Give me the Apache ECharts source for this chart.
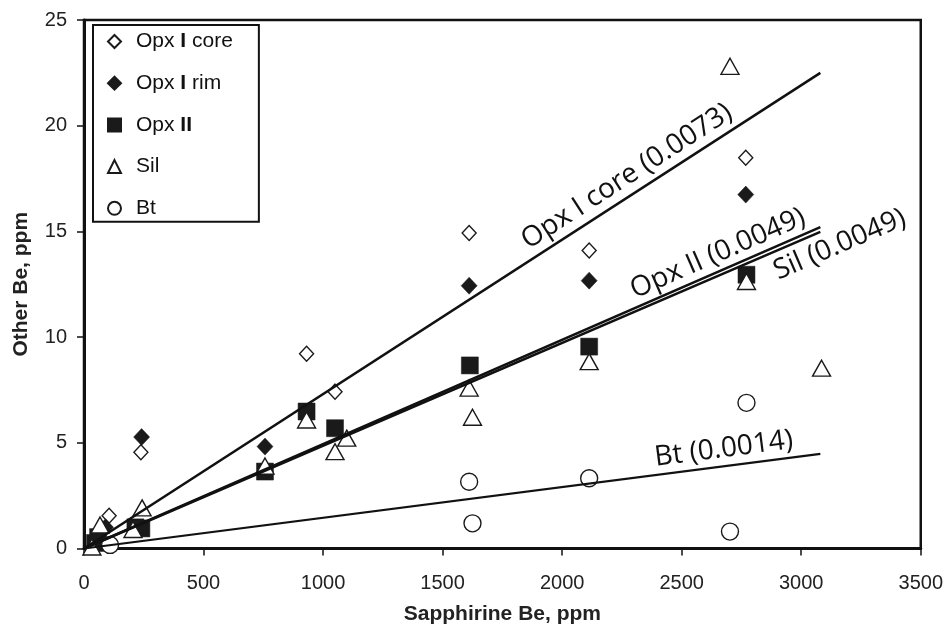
<!DOCTYPE html>
<html>
<head>
<meta charset="utf-8">
<script src="https://cdn.jsdelivr.net/npm/echarts@6/dist/echarts.min.js"></script>
<style>html,body{margin:0;padding:0;background:#fff}#c{width:946px;height:635px}</style>
</head>
<body>
<div id="c"></div>
<script>
// ---- data ----
const seriesNames = ['Opx I core', 'Opx I rim', 'Opx II', 'Sil', 'Bt'];
const opxCoreX = [105, 238, 931, 1050, 1611, 2113, 2768];
const opxCoreY = [1.55, 4.55, 9.21, 7.42, 14.92, 14.1, 18.48];
const opxRimX = [90, 241, 757, 1611, 2113, 2768];
const opxRimY = [1.0, 5.27, 4.82, 12.43, 12.67, 16.74];
const opxIIX = [46, 59, 215, 240, 757, 931, 1050, 1614, 2113, 2771];
const opxIIY = [0.26, 0.54, 1.0, 0.95, 3.64, 6.48, 5.69, 8.66, 9.55, 12.95];
const silX = [33, 67, 205, 243, 757, 931, 1050, 1099, 1611, 1625, 2113, 2702, 2771, 3085];
const silY = [0.07, 1.11, 0.9, 1.92, 3.9, 6.08, 4.58, 5.22, 7.59, 6.21, 8.84, 22.81, 12.63, 8.53];
const btX = [109, 1611, 1625, 2113, 2702, 2771];
const btY = [0.17, 3.16, 1.19, 3.32, 0.8, 6.89];

// regression lines (end points) and their labels
const fitCore = [[0, 0], [3080, 22.5]];
const fitOpxII = [[0, 0], [3080, 15.2]];
const fitSil = [[0, 0], [3080, 14.98]];
const fitBt = [[0, 0], [3080, 4.48]];
const fitLabelText = ['Opx I core (0.0073)', 'Opx II (0.0049)', 'Sil (0.0049)', 'Bt (0.0014)'];
const fitLabelAt = [[2271, 17.6], [2651, 13.95], [3161, 14.37], [2676, 4.71]];

const xAxisMin = 0, xAxisMax = 3500, xAxisStep = 500;
const yAxisMin = 0, yAxisMax = 25, yAxisStep = 5;

const zip = (xs, ys) => xs.map((x, i) => [x, ys[i]]);
const FONT = 'Liberation Sans, Arial, sans-serif';

function scatter(name, xs, ys, symbol, size, filled) {
  return {
    name, type: 'scatter', data: zip(xs, ys), symbol, symbolSize: size, clip: false, z: 3,
    itemStyle: filled ? { color: '#1a1a1a', borderColor: '#1a1a1a', borderWidth: 0.5, opacity: 1 }
                      : { color: '#fff', borderColor: '#1a1a1a', borderWidth: 1.4, opacity: 1 },
    emphasis: { disabled: true }
  };
}
function fitLine(data, w) {
  return { type: 'line', data, showSymbol: false, symbol: 'none', silent: true, z: 4,
    lineStyle: { color: '#111', width: w }, emphasis: { disabled: true } };
}

const richLegend = {
  s: { width: 10 },
  n: { fontSize: 21, fontFamily: FONT, color: '#111', lineHeight: 22 },
  b: { fontSize: 21, fontFamily: FONT, color: '#111', fontWeight: 'bold', lineHeight: 22 }
};

const option = {
  animation: false,
  backgroundColor: '#fff',
  grid: { left: 84, right: 25, top: 20, bottom: 86.5, show: true, borderColor: '#111', borderWidth: 2.5, backgroundColor: 'transparent' },
  xAxis: {
    type: 'value', min: xAxisMin, max: xAxisMax, interval: xAxisStep,
    name: 'Sapphirine Be, ppm', nameLocation: 'middle', nameGap: 55,
    nameTextStyle: { fontFamily: FONT, fontSize: 21, fontWeight: 'bold', color: '#222' },
    axisLine: { show: true, onZero: false, lineStyle: { color: '#111', width: 3 } },
    axisTick: { show: true, inside: false, length: 7, lineStyle: { color: '#111', width: 1.5 } },
    axisLabel: { fontFamily: FONT, fontSize: 20, color: '#222', margin: 25, formatter: v => String(v) },
    splitLine: { show: false }
  },
  yAxis: {
    type: 'value', min: yAxisMin, max: yAxisMax, interval: yAxisStep,
    name: 'Other Be, ppm', nameLocation: 'middle', nameGap: 52, nameRotate: 90,
    nameTextStyle: { fontFamily: FONT, fontSize: 21, fontWeight: 'bold', color: '#222' },
    axisLine: { show: true, onZero: false, lineStyle: { color: '#111', width: 3 } },
    axisTick: { show: true, inside: false, length: 7, lineStyle: { color: '#111', width: 1.5 } },
    axisLabel: { fontFamily: FONT, fontSize: 20, color: '#222', margin: 17, formatter: v => String(v) },
    splitLine: { show: false }
  },
  legend: {
    data: seriesNames, orient: 'vertical', left: 93, top: 25,
    backgroundColor: '#fff', borderColor: '#111', borderWidth: 2, borderRadius: 0,
    padding: [6, 26, 3, 14], itemGap: 20.7, itemWidth: 13, itemHeight: 13,
    selectedMode: false,
    formatter: function (n) {
      const parts = n.split(' ');
      return '{s|}' + parts.map(p => /^I+$/.test(p) ? '{b|' + p + '}' : '{n|' + p + '}').join('{n| }');
    },
    textStyle: { rich: richLegend }
  },
  series: [
    scatter(seriesNames[0], opxCoreX, opxCoreY, 'diamond', [14, 15], false),
    scatter(seriesNames[1], opxRimX, opxRimY, 'diamond', [16, 17], true),
    scatter(seriesNames[2], opxIIX, opxIIY, 'rect', 17, true),
    scatter(seriesNames[3], silX, silY, 'triangle', [18, 16], false),
    scatter(seriesNames[4], btX, btY, 'circle', 17, false),
    fitLine(fitCore, 2.5),
    fitLine(fitOpxII, 2.5),
    fitLine(fitSil, 2.5),
    fitLine(fitBt, 2.2)
  ]
};

const chart = echarts.init(document.getElementById('c'), null, { renderer: 'canvas' });
chart.setOption(option);

const fits = [fitCore, fitOpxII, fitSil, fitBt];
const graphics = fitLabelAt.map((at, i) => {
  const p = chart.convertToPixel({ gridIndex: 0 }, at);
  const a = chart.convertToPixel({ gridIndex: 0 }, fits[i][0]);
  const b = chart.convertToPixel({ gridIndex: 0 }, fits[i][1]);
  const ang = Math.atan2(a[1] - b[1], b[0] - a[0]);
  return {
    type: 'text', x: p[0], y: p[1], rotation: ang, z: 10, silent: true,
    style: { text: fitLabelText[i], fontFamily: 'Open Sans, Noto Sans, sans-serif', fontSize: 28,
             fill: '#111', align: 'center', verticalAlign: 'middle' }
  };
});
chart.setOption({ graphic: graphics });
</script>
</body>
</html>
